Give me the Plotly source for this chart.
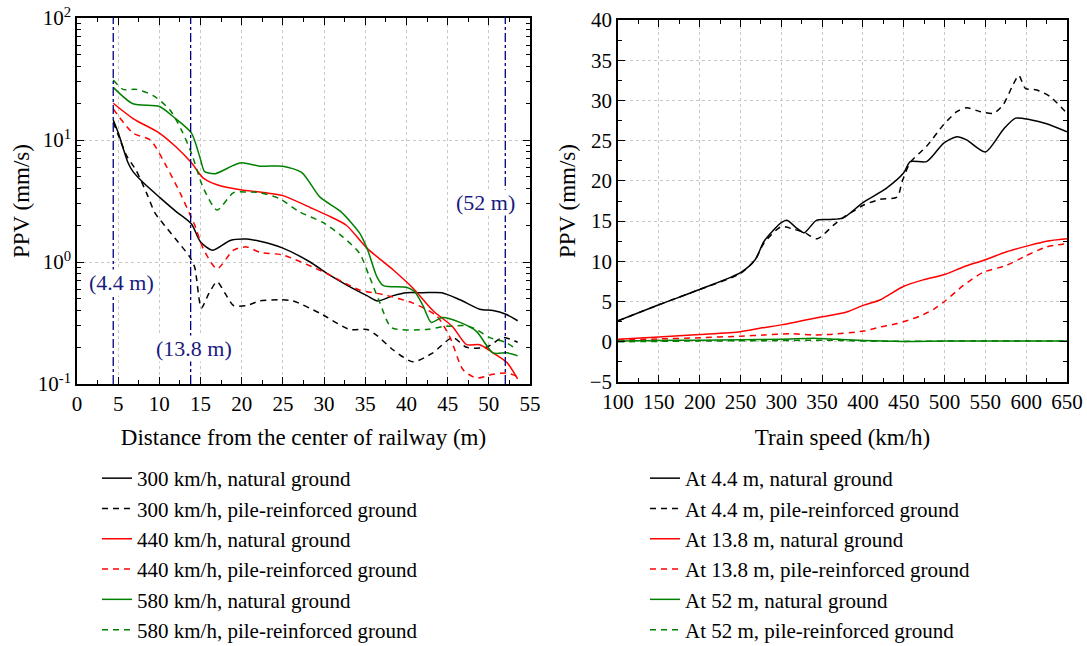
import math
import plotly.graph_objects as go

# ---------------- Left panel data: PPV vs distance ----------------
d_300_nat = [4.4, 5, 6.2, 6.8, 8, 10, 12, 13.9, 15, 16.5, 18.6, 20.6, 22.2, 25, 28.3, 30.3, 32.7, 35.2, 36.5, 38.4, 40, 42, 44.3, 46.5, 48.9, 50.5, 52, 53.5]
v_300_nat = [14.6, 11.5, 6.5, 5.5, 4.5, 3.4, 2.6, 2.05, 1.46, 1.25, 1.5, 1.54, 1.48, 1.3, 1.0, 0.81, 0.65, 0.53, 0.48, 0.53, 0.56, 0.56, 0.56, 0.49, 0.41, 0.40, 0.375, 0.33]

d_300_pile = [4.4, 5, 6, 7.2, 8.5, 9.5, 10.9, 12.3, 13.7, 14.3, 15.1, 16, 17, 18, 19, 20.6, 22.2, 24.6, 26.2, 29.5, 33.1, 35.2, 36.4, 38.4, 40.8, 43.2, 45.6, 47.3, 49.7, 51.7, 53.5]
v_300_pile = [14.0, 11.0, 7.5, 5.6, 3.6, 2.5, 1.9, 1.45, 1.1, 0.9, 0.42, 0.55, 0.69, 0.55, 0.44, 0.44, 0.48, 0.49, 0.48, 0.38, 0.28, 0.28, 0.25, 0.19, 0.152, 0.18, 0.24, 0.20, 0.20, 0.24, 0.22]

d_440_nat = [4.4, 6.8, 10, 12, 13.9, 15.3, 17, 20, 22.2, 25, 28.3, 30.5, 32.7, 35.2, 38.4, 40.8, 43.2, 45.6, 47.3, 48.9, 50.5, 52.2, 53.5]
v_440_nat = [20, 15, 11.4, 8.8, 6.5, 4.9, 4.3, 3.9, 3.75, 3.5, 2.8, 2.4, 2.0, 1.3, 0.86, 0.61, 0.40, 0.295, 0.21, 0.21, 0.18, 0.15, 0.11]

d_440_pile = [4.4, 6.8, 8.9, 10.9, 12.5, 13.9, 14.3, 15.3, 17, 19, 20.6, 22.2, 25, 29.9, 34.3, 37.2, 40.8, 43.7, 45.3, 46.9, 48.5, 50.5, 52.2, 53.5]
v_440_pile = [18, 11.4, 10, 6, 3.7, 2.3, 2.0, 1.3, 0.88, 1.25, 1.33, 1.2, 1.14, 0.83, 0.59, 0.54, 0.46, 0.36, 0.24, 0.13, 0.112, 0.12, 0.123, 0.115]

d_580_nat = [4.4, 6.8, 10, 11.7, 13.9, 15, 15.5, 16.8, 19, 20, 22.2, 25, 27.3, 29.5, 32, 34.3, 35.3, 36.4, 37.2, 40, 41, 42, 43, 44.3, 46.5, 48.5, 50.5, 52.2, 53.5]
v_580_nat = [27, 19.8, 18.8, 15.5, 11.4, 6.9, 5.5, 5.3, 6.2, 6.5, 6.1, 6.1, 5.4, 3.4, 2.6, 1.73, 1.25, 0.76, 0.64, 0.62, 0.57, 0.44, 0.32, 0.35, 0.32, 0.27, 0.18, 0.18, 0.17]

d_580_pile = [4.4, 5.6, 7.2, 9.3, 11.3, 12.7, 13.9, 15.3, 17, 19, 20.6, 22.2, 24.6, 26.9, 29.9, 32.3, 34.3, 35.5, 36.8, 38.2, 42.5, 44.4, 47.3, 48.5, 50.1, 52, 53.5]
v_580_pile = [31, 26, 26, 23, 17.6, 12.0, 7.8, 4.1, 2.67, 3.7, 3.75, 3.7, 3.3, 2.6, 2.1, 1.6, 1.18, 0.76, 0.46, 0.29, 0.28, 0.295, 0.30, 0.28, 0.24, 0.22, 0.19]

# ---------------- Right panel data: PPV vs train speed ----------------
s_44_nat = [100, 150, 200, 250, 268, 279, 300, 307, 318, 328, 343, 360, 376, 400, 429, 450, 458, 478, 499, 515, 527, 550, 572, 587, 605, 625, 650]
v_44_nat = [2.6, 4.6, 6.5, 8.6, 10.2, 12.5, 14.8, 15.1, 14.2, 13.55, 15.1, 15.2, 15.4, 17.3, 19.1, 21.0, 22.4, 22.4, 24.7, 25.5, 25.1, 23.6, 26.4, 27.8, 27.6, 27.1, 26.1]

s_44_pile = [100, 150, 200, 250, 268, 279, 300, 315, 328, 344, 364, 378, 388, 401, 421, 442, 448, 458, 478, 499, 515, 527, 544, 560, 572, 583, 591, 599, 613, 629, 650]
v_44_pile = [2.6, 4.6, 6.5, 8.5, 10.2, 12.3, 14.3, 14.0, 13.6, 12.8, 14.5, 15.6, 16.2, 17.0, 17.7, 18.0, 19.9, 22.3, 24.3, 27.0, 28.6, 29.1, 28.6, 28.4, 29.5, 31.75, 33.1, 31.5, 31.3, 30.5, 28.4]

s_138_nat = [100, 150, 200, 250, 275, 300, 325, 350, 380, 401, 421, 450, 474, 501, 523, 550, 576, 601, 625, 650]
v_138_nat = [0.3, 0.6, 0.9, 1.25, 1.7, 2.1, 2.6, 3.1, 3.7, 4.56, 5.2, 6.9, 7.7, 8.4, 9.3, 10.2, 11.2, 11.9, 12.5, 12.8]

s_138_pile = [100, 150, 200, 250, 280, 310, 340, 360, 401, 421, 442, 470, 487, 501, 523, 548, 576, 601, 625, 650]
v_138_pile = [0.2, 0.35, 0.5, 0.7, 0.85, 1.0, 0.85, 0.92, 1.34, 1.84, 2.26, 3.2, 4.06, 5.1, 7.0, 8.66, 9.5, 10.75, 11.8, 12.2]

s_52_nat = [100, 150, 200, 250, 300, 340, 360, 400, 450, 500, 550, 600, 650]
v_52_nat = [0.1, 0.15, 0.2, 0.25, 0.3, 0.45, 0.35, 0.15, 0.05, 0.1, 0.1, 0.1, 0.1]

s_52_pile = [100, 150, 200, 250, 300, 350, 400, 450, 500, 550, 600, 650]
v_52_pile = [0.0, 0.05, 0.1, 0.12, 0.15, 0.2, 0.1, 0.05, 0.08, 0.1, 0.1, 0.1]

# Reference distances and their labels (label centre: distance, PPV)
ref_d = [4.4, 13.8, 52]
ref_labels = ["(4.4 m)", "(13.8 m)", "(52 m)"]
ref_label_pos = [(5.35, 0.685), (14.2, 0.197), (49.6, 3.05)]

# Axis tick labels
left_y_vals = [0.1, 1, 10, 100]
left_y_text = ["10<sup>-1</sup>", "10<sup>0</sup>", "10<sup>1</sup>", "10<sup>2</sup>"]

BLACK, RED, GREEN, NAVY = "#000000", "#ff0000", "#008000", "#000080"
FONT = "Liberation Serif, Times New Roman, serif"
DASH = "6px,5px"

fig = go.Figure()

left_series = [
    (d_300_nat, v_300_nat, "300 km/h, natural ground", BLACK, "solid"),
    (d_300_pile, v_300_pile, "300 km/h, pile-reinforced ground", BLACK, DASH),
    (d_440_nat, v_440_nat, "440 km/h, natural ground", RED, "solid"),
    (d_440_pile, v_440_pile, "440 km/h, pile-reinforced ground", RED, DASH),
    (d_580_nat, v_580_nat, "580 km/h, natural ground", GREEN, "solid"),
    (d_580_pile, v_580_pile, "580 km/h, pile-reinforced ground", GREEN, DASH),
]
for x, y, name, c, dsh in left_series:
    fig.add_trace(go.Scatter(x=x, y=y, name=name, mode="lines",
                             line=dict(color=c, width=1.5, dash=dsh, shape="spline", smoothing=0.7),
                             xaxis="x", yaxis="y", legend="legend"))

right_series = [
    (s_44_nat, v_44_nat, "At 4.4 m, natural ground", BLACK, "solid"),
    (s_44_pile, v_44_pile, "At 4.4 m, pile-reinforced ground", BLACK, DASH),
    (s_138_nat, v_138_nat, "At 13.8 m, natural ground", RED, "solid"),
    (s_138_pile, v_138_pile, "At 13.8 m, pile-reinforced ground", RED, DASH),
    (s_52_nat, v_52_nat, "At 52 m, natural ground", GREEN, "solid"),
    (s_52_pile, v_52_pile, "At 52 m, pile-reinforced ground", GREEN, DASH),
]
for x, y, name, c, dsh in right_series:
    fig.add_trace(go.Scatter(x=x, y=y, name=name, mode="lines",
                             line=dict(color=c, width=1.5, dash=dsh, shape="spline", smoothing=0.7),
                             xaxis="x2", yaxis="y2", legend="legend2"))

# vertical reference lines
for d in ref_d:
    fig.add_shape(type="line", xref="x", yref="y domain", x0=d, x1=d, y0=0, y1=1,
                  line=dict(color=NAVY, width=1.3, dash="dashdot"))
for (lx, ly), t in zip(ref_label_pos, ref_labels):
    fig.add_annotation(x=lx, y=math.log10(ly), yref="y", xref="x", text=t, showarrow=False,
                       bgcolor="white", borderpad=0,
                       font=dict(family=FONT, size=22, color="#1a1a80"))

axis_common = dict(showline=True, linecolor="black", linewidth=1.5, mirror="ticks",
                   ticks="inside", ticklen=7, tickwidth=1.3, tickcolor="black",
                   showgrid=True, gridcolor="#c8c8c8", griddash="dot", gridwidth=1,
                   zeroline=False, automargin=False,
                   tickfont=dict(family=FONT, size=21, color="black"),
                   title_font=dict(family=FONT, size=23, color="black"))

minor_left_y = [m * 10 ** e for e in (-1, 0, 1) for m in range(2, 10)]

legend_font = dict(family=FONT, size=21, color="black")

fig.update_layout(
    width=1087, height=646, margin=dict(l=0, r=0, t=0, b=0, autoexpand=False),
    paper_bgcolor="white", plot_bgcolor="white",
    font=dict(family=FONT, color="black"),
    xaxis=dict(domain=[77 / 1087, 530 / 1087], range=[0, 55], dtick=5,
               minor=dict(dtick=2.5, ticks="inside", ticklen=4, tickcolor="black", showgrid=False),
               title=dict(text="Distance from the center of railway (m)", standoff=14),
               anchor="y", **axis_common),
    yaxis=dict(domain=[(646 - 384) / 646, (646 - 18) / 646], type="log", range=[-1, 2],
               tickmode="array", tickvals=left_y_vals, ticktext=left_y_text,
               minor=dict(tickmode="array", tickvals=minor_left_y, ticks="inside", ticklen=4,
                          tickcolor="black", showgrid=False),
               title=dict(text="PPV (mm/s)", standoff=2),
               anchor="x", **axis_common),
    xaxis2=dict(domain=[618 / 1087, 1067 / 1087], range=[100, 650], dtick=50,
                minor=dict(dtick=25, ticks="inside", ticklen=4, tickcolor="black", showgrid=False),
                title=dict(text="Train speed (km/h)", standoff=16),
                anchor="y2", **axis_common),
    yaxis2=dict(domain=[(646 - 382) / 646, (646 - 20) / 646], range=[-5, 40], dtick=5,
                minor=dict(dtick=2.5, ticks="inside", ticklen=4, tickcolor="black", showgrid=False),
                title=dict(text="PPV (mm/s)", standoff=8),
                anchor="x2", **axis_common),
    legend=dict(x=97 / 1087, y=(646 - 458) / 646, xanchor="left", yanchor="top",
                font=legend_font, bgcolor="rgba(0,0,0,0)", tracegroupgap=0, itemwidth=30),
    legend2=dict(x=645 / 1087, y=(646 - 458) / 646, xanchor="left", yanchor="top",
                 font=legend_font, bgcolor="rgba(0,0,0,0)", tracegroupgap=0, itemwidth=30),
    showlegend=True,
)

fig.write_html("out.html")
